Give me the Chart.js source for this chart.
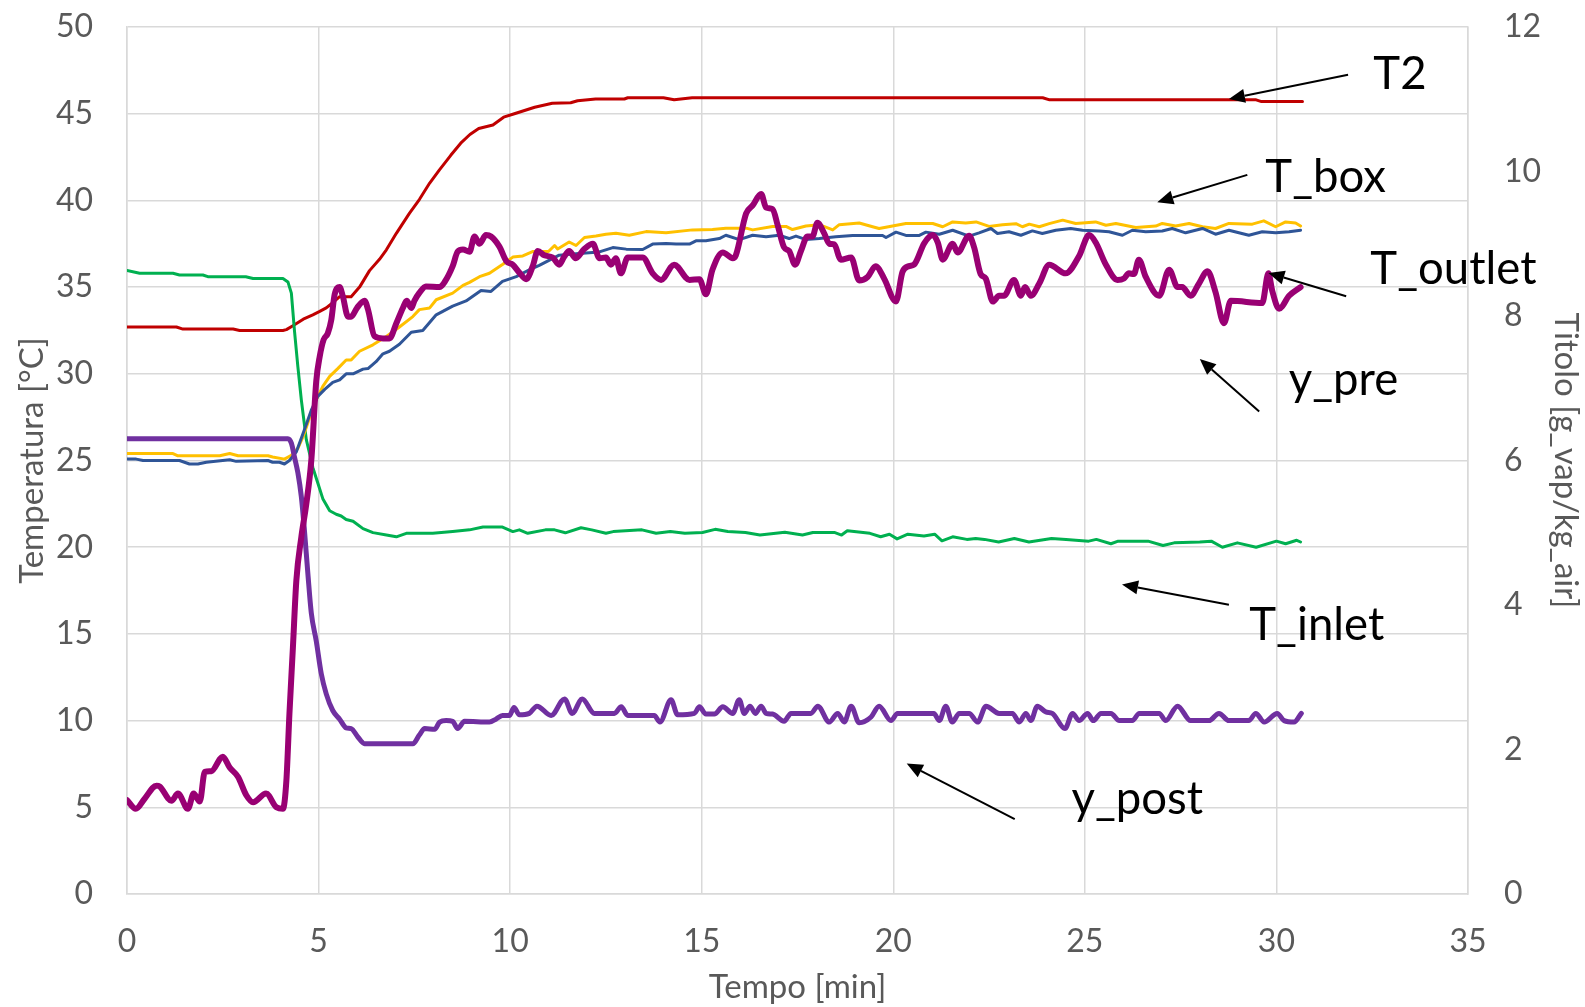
<!DOCTYPE html>
<html>
<head>
<meta charset="utf-8">
<script src="https://cdn.jsdelivr.net/npm/chart.js@4.4.1/dist/chart.umd.min.js"></script>
<style>
  html, body { margin: 0; padding: 0; background: #fff; }
  #wrap { width: 1585px; height: 1007px; }
</style>
</head>
<body>
<div id="wrap"><canvas id="chart" width="1585" height="1007"></canvas></div>
<script>
// [tempo min, valore] - temperature in °C (asse sinistro)
const T2 = [[0,32.7],[1.29,32.7],[1.46,32.58],[2.77,32.58],[2.94,32.5],[4.07,32.5],[4.16,32.55],[4.33,32.77],[4.6,33.15],[4.85,33.4],[5.03,33.6],[5.2,33.8],[5.37,34.1],[5.55,34.45],[5.85,34.45],[6.07,35.0],[6.33,35.95],[6.59,36.6],[6.77,37.15],[7.03,38.1],[7.37,39.25],[7.63,40.05],[7.9,41.0],[8.15,41.75],[8.45,42.6],[8.71,43.3],[8.95,43.8],[9.18,44.15],[9.55,44.35],[9.83,44.8],[10.11,45.0],[10.64,45.37],[11.1,45.6],[11.58,45.63],[11.76,45.75],[12.23,45.85],[12.98,45.85],[13.07,45.92],[14.0,45.92],[14.28,45.8],[14.75,45.92],[23.9,45.92],[24.08,45.8],[29.47,45.8],[29.61,45.7],[30.68,45.7]]

const T_inlet = [[0,35.96],[0.33,35.8],[1.2,35.8],[1.37,35.7],[1.98,35.7],[2.11,35.6],[3.1,35.6],[3.29,35.5],[4.07,35.5],[4.2,35.3],[4.29,34.65],[4.37,32.5],[4.46,30.4],[4.55,28.5],[4.68,26.2],[4.85,24.6],[4.98,23.7],[5.11,22.8],[5.29,22.1],[5.46,21.9],[5.59,21.8],[5.72,21.6],[5.9,21.5],[6.16,21.07],[6.42,20.84],[6.77,20.7],[7.03,20.6],[7.29,20.8],[7.98,20.8],[8.5,20.9],[8.94,21.0],[9.29,21.16],[9.8,21.16],[10.07,20.9],[10.24,21.0],[10.46,20.8],[10.92,21.0],[11.16,21.0],[11.44,20.83],[11.85,21.12],[12.13,21.0],[12.5,20.8],[12.69,20.9],[13.44,21.0],[13.81,20.8],[14.18,20.9],[14.56,20.8],[15.02,20.85],[15.35,21.03],[15.68,20.9],[16.14,20.85],[16.52,20.7],[17.17,20.86],[17.63,20.7],[17.9,20.85],[18.46,20.85],[18.65,20.7],[18.8,20.95],[19.39,20.8],[19.67,20.6],[19.9,20.75],[20.1,20.48],[20.38,20.75],[20.8,20.65],[21.08,20.75],[21.27,20.37],[21.55,20.6],[21.92,20.45],[22.15,20.5],[22.38,20.45],[22.75,20.3],[23.16,20.5],[23.54,20.3],[24.13,20.5],[24.51,20.45],[25.1,20.35],[25.3,20.45],[25.68,20.2],[25.87,20.35],[26.65,20.35],[27.04,20.1],[27.33,20.25],[28.0,20.3],[28.3,20.35],[28.59,20.0],[28.98,20.25],[29.47,20.0],[30.0,20.35],[30.24,20.2],[30.53,20.4],[30.63,20.3]]

const T_box = [[0,25.4],[1.2,25.4],[1.33,25.27],[2.42,25.27],[2.68,25.4],[2.9,25.27],[3.68,25.27],[3.8,25.2],[4.11,25.08],[4.29,25.3],[4.46,25.7],[4.6,26.4],[4.77,27.5],[4.94,28.5],[5.11,29.27],[5.29,29.85],[5.5,30.3],[5.72,30.8],[5.85,30.8],[6.07,31.3],[6.42,31.67],[6.77,32.15],[7.11,32.7],[7.46,33.3],[7.63,33.7],[7.9,33.8],[8.07,34.27],[8.5,34.65],[8.77,35.1],[8.94,35.27],[9.2,35.6],[9.46,35.8],[9.8,36.3],[10.07,36.73],[10.33,36.8],[10.6,37.06],[11.0,37.05],[11.16,37.4],[11.24,37.2],[11.54,37.6],[11.72,37.4],[11.94,37.86],[12.24,37.95],[12.5,38.05],[12.76,38.1],[13.11,37.99],[13.55,38.2],[14.07,38.14],[14.76,38.3],[15.28,38.32],[15.63,38.4],[16.16,38.4],[16.33,38.3],[16.85,38.5],[17.2,38.5],[17.37,38.32],[17.72,38.52],[18.07,38.6],[18.42,38.3],[18.59,38.6],[19.11,38.7],[19.46,38.48],[19.63,38.38],[19.98,38.52],[20.33,38.67],[21.03,38.67],[21.29,38.48],[21.55,38.76],[21.89,38.7],[22.16,38.76],[22.5,38.5],[22.85,38.6],[23.2,38.66],[23.37,38.48],[23.55,38.63],[23.81,38.48],[24.07,38.66],[24.42,38.86],[24.76,38.67],[25.28,38.76],[25.55,38.57],[25.81,38.67],[26.33,38.44],[26.85,38.52],[27.02,38.67],[27.37,38.52],[27.72,38.67],[28.07,38.48],[28.41,38.38],[28.76,38.67],[29.37,38.63],[29.67,38.82],[29.98,38.48],[30.24,38.76],[30.5,38.7],[30.63,38.52]]

const T_outlet = [[0,25.08],[0.24,25.08],[0.42,25.0],[1.37,25.0],[1.63,24.8],[1.85,24.8],[2.07,24.9],[2.68,25.04],[2.85,24.95],[3.68,25.0],[3.8,24.9],[3.98,24.9],[4.11,24.8],[4.24,25.0],[4.42,25.5],[4.63,26.77],[4.81,27.9],[4.98,28.7],[5.16,29.1],[5.37,29.5],[5.55,29.65],[5.72,30.0],[5.9,30.0],[6.16,30.27],[6.29,30.3],[6.5,30.7],[6.68,31.15],[6.85,31.3],[7.11,31.7],[7.42,32.4],[7.72,32.5],[8.07,33.4],[8.5,33.9],[8.85,34.2],[9.24,34.8],[9.5,34.75],[9.8,35.33],[10.16,35.6],[10.5,36.0],[10.76,36.25],[11.28,36.84],[11.8,36.94],[12.33,37.03],[12.68,37.28],[13.03,37.19],[13.46,37.17],[13.72,37.48],[14.07,37.52],[14.33,37.48],[14.68,37.48],[14.85,37.67],[15.11,37.67],[15.46,37.8],[15.63,37.99],[15.98,37.74],[16.33,37.99],[16.68,37.9],[17.02,37.99],[17.28,37.8],[17.46,37.94],[17.72,37.74],[18.07,37.8],[18.5,37.9],[18.94,37.98],[19.72,37.98],[19.81,37.86],[20.07,38.17],[20.33,37.98],[20.68,37.98],[20.85,38.17],[21.2,38.05],[21.55,38.28],[21.98,37.94],[22.24,38.13],[22.55,38.38],[22.72,38.09],[23.02,38.19],[23.33,37.99],[23.63,38.24],[23.89,38.09],[24.24,38.28],[24.63,38.38],[24.94,38.28],[25.37,38.24],[25.63,38.19],[25.98,37.99],[26.24,38.28],[26.59,38.19],[27.02,38.24],[27.28,38.38],[27.63,38.13],[28.07,38.38],[28.41,38.05],[28.76,38.28],[29.28,37.99],[29.63,38.19],[29.98,38.13],[30.33,38.19],[30.63,38.28]]

// titolo in g_vap/kg_air (asse destro)
const y_pre = [[0,1.30],[0.23,1.18],[0.46,1.32],[0.77,1.50],[0.85,1.49],[1.16,1.29],[1.33,1.39],[1.59,1.18],[1.74,1.39],[1.9,1.28],[2.03,1.69],[2.2,1.70],[2.5,1.90],[2.68,1.75],[2.9,1.62],[3.11,1.37],[3.29,1.27],[3.63,1.39],[3.9,1.20],[4.07,1.18],[4.16,1.57],[4.24,2.50],[4.33,3.41],[4.42,4.34],[4.55,4.94],[4.68,5.40],[4.81,6.0],[4.94,7.10],[5.03,7.44],[5.13,7.67],[5.24,7.76],[5.33,7.94],[5.42,8.30],[5.55,8.40],[5.63,8.28],[5.77,7.99],[5.85,7.99],[6.0,8.11],[6.2,8.21],[6.29,8.09],[6.46,7.72],[6.68,7.69],[6.85,7.69],[7.03,7.90],[7.2,8.11],[7.3,8.21],[7.42,8.11],[7.5,8.21],[7.63,8.32],[7.8,8.41],[8.16,8.40],[8.29,8.47],[8.5,8.69],[8.63,8.89],[8.77,8.92],[8.94,8.89],[9.07,9.10],[9.2,9.00],[9.37,9.12],[9.5,9.10],[9.72,8.96],[9.9,8.76],[10.07,8.71],[10.24,8.60],[10.42,8.51],[10.59,8.69],[10.72,8.90],[10.89,8.84],[11.11,8.81],[11.28,8.71],[11.41,8.82],[11.54,8.90],[11.71,8.80],[11.94,8.93],[12.16,9.00],[12.33,8.80],[12.5,8.81],[12.63,8.71],[12.76,8.80],[12.89,8.59],[13.07,8.81],[13.46,8.81],[13.72,8.59],[13.94,8.50],[14.28,8.71],[14.68,8.50],[14.94,8.51],[15.11,8.30],[15.28,8.64],[15.55,8.88],[15.81,8.80],[15.89,8.84],[16.16,9.42],[16.33,9.53],[16.55,9.69],[16.68,9.50],[16.85,9.48],[16.98,9.26],[17.15,8.95],[17.28,8.90],[17.44,8.71],[17.59,8.90],[17.76,9.10],[17.89,9.10],[18.02,9.29],[18.2,9.14],[18.33,9.00],[18.46,8.99],[18.63,8.78],[18.9,8.81],[19.11,8.49],[19.33,8.54],[19.54,8.69],[19.76,8.52],[20.07,8.20],[20.24,8.61],[20.41,8.69],[20.54,8.71],[20.81,9.01],[21.03,9.12],[21.16,9.02],[21.29,8.78],[21.55,9.00],[21.68,8.88],[21.98,9.11],[22.11,8.95],[22.28,8.58],[22.41,8.52],[22.6,8.20],[22.76,8.28],[22.89,8.28],[23.15,8.50],[23.33,8.28],[23.44,8.40],[23.59,8.28],[23.81,8.45],[24.07,8.71],[24.5,8.59],[24.85,8.83],[25.11,9.12],[25.28,9.02],[25.55,8.71],[25.85,8.50],[26.02,8.52],[26.15,8.59],[26.28,8.58],[26.41,8.78],[26.59,8.54],[26.94,8.28],[27.2,8.64],[27.42,8.40],[27.54,8.40],[27.76,8.28],[27.98,8.45],[28.2,8.62],[28.41,8.33],[28.63,7.90],[28.81,8.21],[29.63,8.18],[29.79,8.59],[29.89,8.35],[30.07,8.10],[30.33,8.28],[30.63,8.40]]

const y_post = [[0,6.30],[4.2,6.30],[4.29,6.24],[4.37,6.05],[4.46,5.83],[4.55,5.50],[4.63,5.04],[4.72,4.44],[4.81,3.89],[4.94,3.50],[5.07,3.05],[5.2,2.77],[5.37,2.54],[5.55,2.42],[5.72,2.30],[5.85,2.29],[6.03,2.17],[6.2,2.08],[7.46,2.08],[7.63,2.20],[7.77,2.29],[8.03,2.28],[8.16,2.38],[8.33,2.40],[8.5,2.39],[8.63,2.29],[8.81,2.39],[9.46,2.38],[9.63,2.42],[9.8,2.47],[9.98,2.47],[10.1,2.58],[10.24,2.48],[10.5,2.50],[10.7,2.60],[11.07,2.47],[11.42,2.70],[11.62,2.50],[11.88,2.70],[12.2,2.50],[12.72,2.50],[12.9,2.59],[13.07,2.47],[13.76,2.47],[13.91,2.38],[14.2,2.69],[14.37,2.48],[14.81,2.50],[14.94,2.59],[15.11,2.49],[15.33,2.49],[15.55,2.59],[15.81,2.50],[15.98,2.69],[16.11,2.50],[16.26,2.60],[16.4,2.50],[16.55,2.60],[16.68,2.50],[16.85,2.49],[17.15,2.39],[17.33,2.50],[17.85,2.50],[18.03,2.60],[18.33,2.38],[18.55,2.50],[18.72,2.38],[18.9,2.60],[19.11,2.37],[19.42,2.45],[19.63,2.60],[19.94,2.40],[20.11,2.50],[21.06,2.50],[21.2,2.40],[21.37,2.60],[21.54,2.38],[21.72,2.50],[21.98,2.50],[22.2,2.38],[22.42,2.60],[22.76,2.50],[23.11,2.50],[23.29,2.38],[23.46,2.50],[23.59,2.40],[23.76,2.60],[23.98,2.52],[24.15,2.50],[24.48,2.29],[24.68,2.50],[24.85,2.40],[25.07,2.50],[25.22,2.40],[25.42,2.50],[25.68,2.50],[25.9,2.40],[26.24,2.40],[26.42,2.50],[26.94,2.50],[27.11,2.40],[27.42,2.60],[27.76,2.40],[28.24,2.40],[28.5,2.50],[28.76,2.40],[29.28,2.40],[29.46,2.50],[29.68,2.38],[30.02,2.50],[30.2,2.40],[30.46,2.38],[30.65,2.50]]

const xTicks = { min: 0, max: 35, step: 5 }
const yTicks = { min: 0, max: 50, step: 5 }
const y2Ticks = { min: 0, max: 12, step: 2 }

// etichette con freccia, in coordinate (tempo, temperatura)
const notes = [
  { text: "T2", at: [32.53, 46.41], from: [31.87, 47.25], to: [28.76, 45.85] },
  { text: "T_box", at: [29.71, 40.5], from: [29.24, 41.47], to: [26.89, 39.9] },
  { text: "T_outlet", at: [32.45, 35.18], from: [31.82, 34.47], to: [29.79, 35.82] },
  { text: "y_pre", at: [30.32, 28.77], from: [29.55, 27.82], to: [28.0, 30.86] },
  { text: "T_inlet", at: [29.29, 14.63], from: [28.76, 16.68], to: [25.97, 17.85] },
  { text: "y_post", at: [24.65, 4.59], from: [23.17, 4.32], to: [20.35, 7.52] },
]

const FONT = "Lato, 'Open Sans', sans-serif"
const GREY = "#595959"
const GRID = "#d9d9d9"

const toXY = (arr) => arr.map(p => ({ x: p[0], y: p[1] }))

const notesPlugin = {
  id: "notes",
  afterDatasetsDraw(chart) {
    const ctx = chart.ctx
    const x = chart.scales.x
    const y = chart.scales.y
    ctx.save()
    ctx.fillStyle = "#000"
    ctx.strokeStyle = "#000"
    ctx.font = "45.5px " + FONT
    ctx.textAlign = "left"
    ctx.textBaseline = "alphabetic"
    notes.forEach(n => {
      ctx.fillText(n.text, x.getPixelForValue(n.at[0]), y.getPixelForValue(n.at[1]))
      const x0 = x.getPixelForValue(n.from[0]), y0 = y.getPixelForValue(n.from[1])
      const x1 = x.getPixelForValue(n.to[0]), y1 = y.getPixelForValue(n.to[1])
      const a = Math.atan2(y1 - y0, x1 - x0)
      const head = 16, half = 7
      const bx = x1 - head * Math.cos(a), by = y1 - head * Math.sin(a)
      ctx.lineWidth = 2
      ctx.beginPath()
      ctx.moveTo(x0, y0)
      ctx.lineTo(bx, by)
      ctx.stroke()
      ctx.beginPath()
      ctx.moveTo(x1, y1)
      ctx.lineTo(bx + half * Math.sin(a), by - half * Math.cos(a))
      ctx.lineTo(bx - half * Math.sin(a), by + half * Math.cos(a))
      ctx.closePath()
      ctx.fill()
    })
    ctx.restore()
  }
}

const line = (label, data, color, width, axis, smooth) => ({
  label: label,
  data: toXY(data),
  borderColor: color,
  backgroundColor: color,
  borderWidth: width,
  pointRadius: 0,
  fill: false,
  yAxisID: axis,
  borderJoinStyle: "round",
  borderCapStyle: "round",
  cubicInterpolationMode: smooth ? "monotone" : "default",
  tension: 0,
})

// niente mezze etichette sopra/sotto: l'area del grafico resta dove voglio
const fitY = (w) => (s) => { s.width = w; s.paddingTop = 0; s.paddingBottom = 0 }

const ctx = document.getElementById("chart").getContext("2d")

new Chart(ctx, {
  type: "line",
  data: {
    datasets: [
      line("y_pre", y_pre, "#990073", 6, "y2", true),
      line("y_post", y_post, "#7030a0", 5, "y2", true),
      line("T_outlet", T_outlet, "#2f5597", 3, "y", false),
      line("T_box", T_box, "#ffc000", 3, "y", false),
      line("T_inlet", T_inlet, "#00b050", 3, "y", false),
      line("T2", T2, "#c00000", 3, "y", false),
    ],
  },
  options: {
    responsive: false,
    animation: false,
    devicePixelRatio: 1,
    layout: { padding: { top: 27, left: 0, right: 0, bottom: 0 } },
    plugins: {
      legend: { display: false },
      tooltip: { enabled: false },
    },
    scales: {
      x: {
        type: "linear",
        min: xTicks.min,
        max: xTicks.max,
        ticks: { stepSize: xTicks.step, color: GREY, font: { family: FONT, size: 32 }, padding: 28 },
        grid: { color: GRID, lineWidth: 1.5, drawTicks: false },
        border: { color: GRID, width: 1.5 },
        title: { display: true, text: "Tempo [min]", color: GREY, font: { family: FONT, size: 33 }, padding: { top: 0, bottom: 0 } },
        afterFit: (s) => { s.height = 113; s.paddingLeft = 0; s.paddingRight = 0 },
      },
      y: {
        position: "left",
        min: yTicks.min,
        max: yTicks.max,
        ticks: { stepSize: yTicks.step, color: GREY, font: { family: FONT, size: 32 }, padding: 34 },
        grid: { color: GRID, lineWidth: 1.5, drawTicks: false },
        border: { color: GRID, width: 1.5 },
        title: { display: true, text: "Temperatura [°C]", color: GREY, font: { family: FONT, size: 33 }, padding: { top: 13, bottom: 0 } },
        afterFit: fitY(127),
      },
      y2: {
        position: "right",
        min: y2Ticks.min,
        max: y2Ticks.max,
        ticks: { stepSize: y2Ticks.step, color: GREY, font: { family: FONT, size: 32 }, padding: 36 },
        grid: { drawOnChartArea: false, drawTicks: false },
        border: { color: GRID, width: 1.5 },
        title: { display: true, text: "Titolo [g_vap/kg_air]", color: GREY, font: { family: FONT, size: 33 }, padding: { top: 0, bottom: 0 } },
        afterFit: fitY(117),
      },
    },
  },
  plugins: [notesPlugin],
})
</script>
</body>
</html>
